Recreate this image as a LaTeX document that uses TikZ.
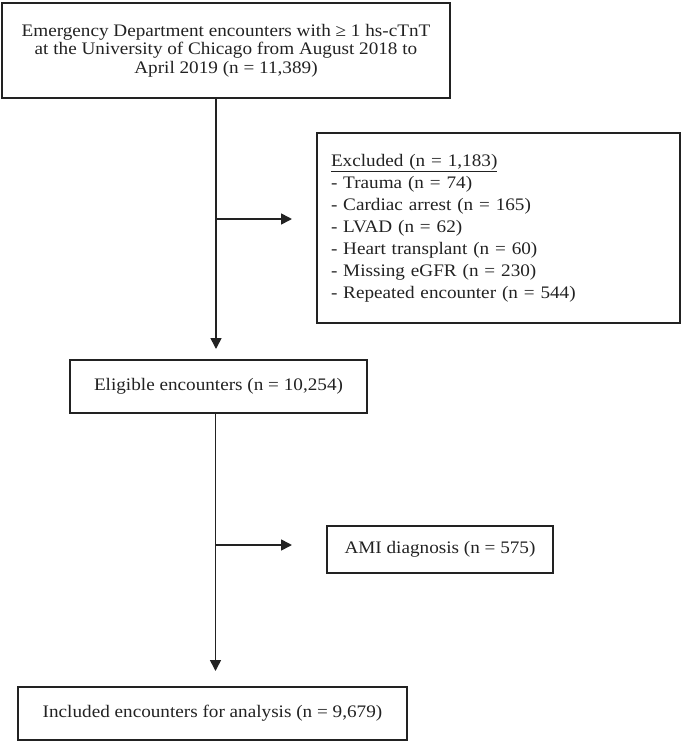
\documentclass[tikz,border=0pt]{standalone}
\usepackage{fontspec}
\setmainfont{Liberation Serif}[FakeStretch=1.09]
\usetikzlibrary{arrows.meta}
\definecolor{ink}{RGB}{34,34,34}
\begin{document}
\begin{tikzpicture}[x=1pt,y=-1pt,
  box/.style={draw=ink, line width=2pt, rectangle, inner sep=0pt, align=center, text=ink,
    font=\fontsize{17.6}{18.3}\selectfont},
  flow/.style={draw=ink, line width=1.6pt, -{Triangle[length=11pt,width=11pt]}},
]
\useasboundingbox (0,0) rectangle (685,742);
\node[box, minimum width=448pt, minimum height=95pt] (src) at (226,50.5)
  {Emergency Department encounters with ≥ 1 hs-cTnT\\at the University of Chicago from August 2018 to\\April 2019 (n = 11,389)};
\node[box, minimum height=190pt, text width=335pt, inner xsep=14pt, align=left,
  font=\fontsize{17.6}{22}\selectfont] (excl) at (498.5,228)
  {\underline{Excluded (n = 1,183)}\\- Trauma (n = 74)\\- Cardiac arrest (n = 165)\\- LVAD (n = 62)\\- Heart transplant (n = 60)\\- Missing eGFR (n = 230)\\- Repeated encounter (n = 544)};
\node[box, minimum width=297pt, minimum height=53pt] (elig) at (218.5,386.5)
  {Eligible encounters (n = 10,254)};
\node[box, minimum width=226pt, minimum height=47pt] (ami) at (440,549.5)
  {AMI diagnosis (n = 575)};
\node[box, minimum width=389pt, minimum height=53pt] (incl) at (212.5,713.5)
  {Included encounters for analysis (n = 9,679)};
\path (src.south) ++(-10,0) coordinate (v1);
\coordinate (j1) at (216,219);
\draw[flow, shorten >=10pt] (v1) -- (v1 |- elig.north);
\draw[flow, shorten >=24pt] (j1) -- (j1 -| excl.west);
\path (elig.south) ++(-3,0) coordinate (v2);
\coordinate (j2) at (215.5,545);
\draw[flow, shorten >=15pt] (v2) -- (v2 |- incl.north);
\draw[flow, shorten >=34pt] (j2) -- (j2 -| ami.west);
\end{tikzpicture}
\end{document}
